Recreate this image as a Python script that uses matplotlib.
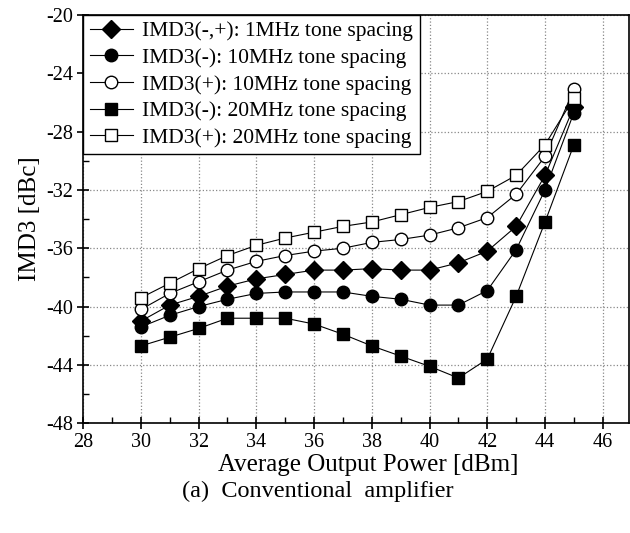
import matplotlib.pyplot as plt
from matplotlib.ticker import MultipleLocator

plt.rcParams['font.family'] = ['Liberation Serif', 'DejaVu Serif']
plt.rcParams['axes.unicode_minus'] = False

power = [30, 31, 32, 33, 34, 35, 36, 37, 38, 39, 40, 41, 42, 43, 44, 45]

imd3_1mhz = [-41.0, -39.9, -39.3, -38.6, -38.1, -37.8, -37.5, -37.5, -37.4, -37.5, -37.5, -37.0, -36.2, -34.5, -31.0, -26.3]
imd3_lo_10mhz = [-41.4, -40.6, -40.0, -39.5, -39.1, -39.0, -39.0, -39.0, -39.3, -39.5, -39.9, -39.9, -38.9, -36.1, -32.0, -26.7]
imd3_hi_10mhz = [-40.2, -39.1, -38.3, -37.5, -36.9, -36.5, -36.2, -36.0, -35.6, -35.4, -35.1, -34.6, -33.9, -32.3, -29.7, -25.1]
imd3_lo_20mhz = [-42.7, -42.1, -41.5, -40.8, -40.8, -40.8, -41.2, -41.9, -42.7, -43.4, -44.1, -44.9, -43.6, -39.3, -34.2, -28.9]
imd3_hi_20mhz = [-39.4, -38.4, -37.4, -36.5, -35.8, -35.3, -34.9, -34.5, -34.2, -33.7, -33.2, -32.8, -32.1, -31.0, -28.9, -25.7]

labels = [
    'IMD3(-,+): 1MHz tone spacing',
    'IMD3(-): 10MHz tone spacing',
    'IMD3(+): 10MHz tone spacing',
    'IMD3(-): 20MHz tone spacing',
    'IMD3(+): 20MHz tone spacing',
]

fig = plt.figure(figsize=(6.3, 5.33), dpi=100)
ax = fig.add_axes([0.132, 0.206, 0.866, 0.766])

series = [
    (imd3_1mhz, 'D', 'black', 9),
    (imd3_lo_10mhz, 'o', 'black', 9),
    (imd3_hi_10mhz, 'o', 'white', 9),
    (imd3_lo_20mhz, 's', 'black', 8.5),
    (imd3_hi_20mhz, 's', 'white', 8.5),
]
for (vals, marker, face, ms), label in zip(series, labels):
    ax.plot(power, vals, color='black', lw=0.8, marker=marker, markersize=ms,
            markerfacecolor=face, markeredgecolor='black', markeredgewidth=1.0,
            label=label, zorder=3)

ax.set_xlim(28, 46.9)
ax.set_ylim(-48, -20)
ax.xaxis.set_major_locator(MultipleLocator(2))
ax.xaxis.set_minor_locator(MultipleLocator(1))
ax.yaxis.set_major_locator(MultipleLocator(4))
ax.yaxis.set_minor_locator(MultipleLocator(2))
ax.tick_params(which='major', direction='inout', length=8, width=1.2, labelsize=14.5, pad=3)
ax.tick_params(which='minor', direction='in', length=4, width=1.0)
ax.grid(True, which='major', color='#888888', linestyle=':', linewidth=0.9)
for s in ax.spines.values():
    s.set_linewidth(1.2)

ax.set_xlabel('Average Output Power [dBm]', fontsize=18)
ax.xaxis.set_label_coords(0.522, -0.075)
ax.set_ylabel('IMD3 [dBc]', fontsize=18, labelpad=4)

leg = ax.legend(loc='upper left', borderaxespad=0, fontsize=15.5, handlelength=2.0,
                handletextpad=0.45, labelspacing=0.3, fancybox=False,
                edgecolor='black', framealpha=1, borderpad=0.3)
leg.get_frame().set_linewidth(1.0)

fig.text(0.505, 0.078, '(a)  Conventional  amplifier', ha='center', va='center', fontsize=17.5)

fig.savefig('out.png', dpi=100)
